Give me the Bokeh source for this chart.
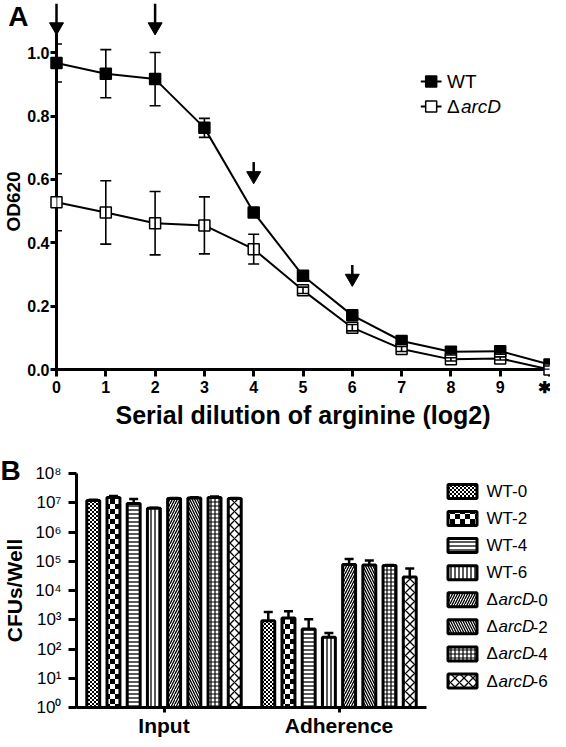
from bokeh.plotting import figure
from bokeh.models import (ColumnDataSource, Range1d, FactorRange, FixedTicker, Whisker,
                          TeeHead, CanvasTexture, NumeralTickFormatter)
from bokeh.transform import dodge
from bokeh.layouts import column, row
from bokeh.embed import file_html
from bokeh.resources import INLINE
from bokeh.core.properties import value

FONT = "Liberation Sans"

# ---------------- Panel A data ----------------
dilution = [0, 1, 2, 3, 4, 5, 6, 7, 8, 9, 10]
x_tick_labels = ["0", "1", "2", "3", "4", "5", "6", "7", "8", "9", "\u2731"]
y_ticks_a = [0.0, 0.2, 0.4, 0.6, 0.8, 1.0]
wt_od = [0.968, 0.934, 0.917, 0.763, 0.496, 0.296, 0.171, 0.090, 0.056, 0.058, 0.016]
wt_err = [0.060, 0.076, 0.084, 0.030, 0.012, 0.012, 0.012, 0.010, 0.010, 0.010, 0.005]
arcd_od = [0.528, 0.496, 0.462, 0.455, 0.380, 0.250, 0.132, 0.065, 0.032, 0.035, 0.0]
arcd_err = [0.090, 0.100, 0.100, 0.090, 0.047, 0.010, 0.010, 0.008, 0.005, 0.005, 0.0]
arrow_x = [0, 2, 4, 6]
arrow_tip = [1.06, 1.06, 0.59, 0.266]
arrow_tail = [1.155, 1.155, 0.655, 0.33]

# ---------------- Panel B data ----------------
groups = ["Input", "Adherence"]
series = ["WT-0", "WT-2", "WT-4", "WT-6", "\u0394arcD-0", "\u0394arcD-2", "\u0394arcD-4", "\u0394arcD-6"]
input_cfu = [1.2e7, 1.5e7, 9.5e6, 6.5e6, 1.4e7, 1.45e7, 1.5e7, 1.4e7]
input_err = [0.6e6, 2.0e6, 4.0e6, 0.3e6, 0.6e6, 0.8e6, 1.5e6, 0.6e6]
adh_cfu = [930, 1140, 480, 250, 7.8e4, 7.5e4, 7.1e4, 2.9e4]
adh_err = [920, 800, 570, 100, 4.2e4, 3.2e4, 4.0e3, 2.8e4]
y_ticks_b = [1e0, 1e1, 1e2, 1e3, 1e4, 1e5, 1e6, 1e7, 1e8]
y_tick_labels_b = ["10\u2070", "10\u00b9", "10\u00b2", "10\u00b3", "10\u2074",
                   "10\u2075", "10\u2076", "10\u2077", "10\u2078"]

# ---------------- styles ----------------
def checker_texture(n):
    return CanvasTexture(code=f"""
const N = {n};
const c = ctx.canvas;
c.width = N; c.height = N;
const g = c.getContext('2d');
g.clearRect(0, 0, N, N);
g.fillStyle = 'black';
g.fillRect(0, 0, N / 2, N / 2);
g.fillRect(N / 2, N / 2, N / 2, N / 2);
""")


HATCH = [
    dict(hatch_pattern=value("fine"), hatch_extra={"fine": checker_texture(4)}, hatch_scale=4),
    dict(hatch_pattern=value("coarse"), hatch_extra={"coarse": checker_texture(10)}, hatch_scale=10),
    dict(hatch_pattern="horizontal_line", hatch_scale=4, hatch_weight=1.3),
    dict(hatch_pattern="vertical_line", hatch_scale=4, hatch_weight=1.3),
    dict(hatch_pattern="right_diagonal_line", hatch_scale=5, hatch_weight=1.3),
    dict(hatch_pattern="left_diagonal_line", hatch_scale=5, hatch_weight=1.3),
    dict(hatch_pattern="cross", hatch_scale=4, hatch_weight=1.2),
    dict(hatch_pattern="diagonal_cross", hatch_scale=9, hatch_weight=1.3),
]


def style_axes(p):
    for ax in list(p.xaxis) + list(p.yaxis):
        ax.axis_line_width = 3
        ax.axis_line_color = "black"
        ax.major_tick_line_width = 3
        ax.major_tick_line_color = "black"
        ax.major_tick_in = 0
        ax.minor_tick_line_color = None
        ax.major_label_text_font = FONT
        ax.major_label_text_color = "black"
        ax.axis_label_text_font = FONT
        ax.axis_label_text_font_style = "bold"
        ax.axis_label_text_color = "black"
    p.xgrid.visible = False
    p.ygrid.visible = False
    p.outline_line_color = None


# ================= Panel A =================
A_W, A_H = 550, 439
A_L, A_R, A_T, A_B = 49, 1, 33, 70
FA_W, FA_H = A_W - A_L - A_R, A_H - A_T - A_B
pA = figure(width=A_W, height=A_H, output_backend="svg", toolbar_location=None,
            x_range=Range1d(0, 10), y_range=Range1d(0, 1.061),
            min_border_left=A_L, min_border_right=A_R, min_border_top=A_T, min_border_bottom=A_B)
# pixel-like helper ranges (origin at the frame's top-left) for legend / panel letter
pA.extra_x_ranges = {"px": Range1d(0, FA_W)}
pA.extra_y_ranges = {"py": Range1d(FA_H, 0)}
style_axes(pA)
pA.xaxis.ticker = FixedTicker(ticks=dilution, minor_ticks=[])
pA.xaxis.major_label_overrides = {d: t for d, t in zip(dilution, x_tick_labels)}
pA.yaxis.ticker = FixedTicker(ticks=y_ticks_a, minor_ticks=[])
pA.yaxis.formatter = NumeralTickFormatter(format="0.0")
for ax in [pA.xaxis[0], pA.yaxis[0]]:
    ax.major_tick_out = 7
    ax.major_label_text_font_style = "bold"
    ax.major_label_text_font_size = "16px"
    ax.major_label_standoff = 2
pA.yaxis.major_label_standoff = 1
pA.yaxis.major_tick_out = 6
pA.xaxis.axis_label = "Serial dilution of arginine (log2)"
pA.xaxis.axis_label_text_font_size = "25px"
pA.xaxis.axis_label_standoff = 2
pA.yaxis.axis_label = "OD620"
pA.yaxis.axis_label_text_font_size = "19px"
pA.yaxis.axis_label_standoff = 0

src_wt = ColumnDataSource(dict(x=dilution, y=wt_od,
                               lo=[v - e for v, e in zip(wt_od, wt_err)],
                               hi=[v + e for v, e in zip(wt_od, wt_err)]))
src_ad = ColumnDataSource(dict(x=dilution, y=arcd_od,
                               lo=[v - e for v, e in zip(arcd_od, arcd_err)],
                               hi=[v + e for v, e in zip(arcd_od, arcd_err)]))
for src in (src_wt, src_ad):
    pA.add_layout(Whisker(source=src, base="x", upper="hi", lower="lo", dimension="height",
                          line_width=1.6, line_color="black", level="overlay",
                          upper_head=TeeHead(size=11, line_width=1.6, line_color="black"),
                          lower_head=TeeHead(size=11, line_width=1.6, line_color="black")))
pA.line("x", "y", source=src_wt, line_width=2, line_color="black", level="overlay")
pA.line("x", "y", source=src_ad, line_width=2, line_color="black", level="overlay")
pA.scatter("x", "y", source=src_wt, marker="square", size=11, fill_color="black",
           line_color="black", line_width=1.5, level="overlay")
pA.scatter("x", "y", source=src_ad, marker="square", size=11, fill_color="white",
           line_color="black", line_width=1.5, level="overlay")

# arrows: shaft + triangular head
HEAD_OFF = 0.022
arrow_src = ColumnDataSource(dict(x=arrow_x, tail=arrow_tail,
                                  head=[t + HEAD_OFF for t in arrow_tip]))
pA.segment(x0="x", y0="tail", x1="x", y1="head", source=arrow_src, line_width=2.5,
           line_color="black", level="overlay")
pA.scatter("x", "head", source=arrow_src, marker="inverted_triangle", size=14,
           fill_color="black", line_color="black", line_width=1, level="overlay")

# legend A (frame-pixel helper ranges)
LEG_A_X, LEG_A_HALF = 380, 10.5
LEG_A_Y = [48, 73]
LEG_A_TX = 396
for yy, fill in zip(LEG_A_Y, ["black", "white"]):
    pA.line([LEG_A_X - LEG_A_HALF, LEG_A_X + LEG_A_HALF], [yy, yy], line_width=2,
            line_color="black", level="overlay", x_range_name="px", y_range_name="py")
    pA.scatter([LEG_A_X], [yy], marker="square", size=11, fill_color=fill,
               line_color="black", line_width=1.5, level="overlay",
               x_range_name="px", y_range_name="py")
TXT = dict(text_font=value(FONT), text_font_size="19px", text_baseline="middle",
           text_color="black", level="overlay", x_range_name="px", y_range_name="py")
pA.text([LEG_A_TX], [LEG_A_Y[0]], text=["WT"], **TXT)
pA.text([LEG_A_TX], [LEG_A_Y[1]], text=["\u0394"], **TXT)
pA.text([LEG_A_TX], [LEG_A_Y[1]], text=["arcD"], text_font_style="italic", x_offset=14, **TXT)

# panel letter A
pA.text([-A_L], [-A_T], text=["A"], text_font=value(FONT), text_font_size="28px",
        text_font_style="bold", text_baseline="top", text_color="black", level="overlay",
        x_range_name="px", y_range_name="py")

# ================= Panel B =================
B_W, B_H = 550, 300
B_L, B_R, B_T, B_B = 76, 124, 34, 31
FB_W, FB_H = B_W - B_L - B_R, B_H - B_T - B_B
pB = figure(width=B_W, height=B_H, output_backend="svg", toolbar_location=None,
            x_range=FactorRange(factors=groups, range_padding=0),
            y_range=Range1d(1, 1e8), y_axis_type="log",
            min_border_left=B_L, min_border_right=B_R, min_border_top=B_T, min_border_bottom=B_B)
style_axes(pB)
pB.yaxis.ticker = FixedTicker(ticks=y_ticks_b, minor_ticks=[])
pB.yaxis.major_label_overrides = {t: s for t, s in zip(y_ticks_b, y_tick_labels_b)}
pB.yaxis.major_label_text_font_size = "17px"
pB.yaxis.major_tick_out = 8
pB.yaxis.major_label_standoff = 7
pB.yaxis.axis_label = "CFUs/Well"
pB.yaxis.axis_label_text_font_size = "21px"
pB.yaxis.axis_label_standoff = 6
pB.xaxis.axis_label = None
pB.xaxis.major_tick_out = 5
pB.xaxis.major_label_standoff = 1
pB.xaxis.major_label_text_font_size = "21px"
pB.xaxis.major_label_text_font_style = "bold"


# frame-pixel -> synthetic data coordinates of panel B (for legend and panel letter)
def bx(px):
    return px * len(groups) / FB_W


def by(py):
    return 10 ** (8.0 * (1.0 - py / FB_H))


PITCH = 0.1155
BAR_W = 0.074
for i, name in enumerate(series):
    off = (i - 3.5) * PITCH
    cfu = [input_cfu[i], adh_cfu[i]]
    up = [input_cfu[i] + input_err[i], adh_cfu[i] + adh_err[i]]
    src = ColumnDataSource(dict(group=groups, cfu=cfu, up=up))
    pB.add_layout(Whisker(source=src, base=dodge("group", off, range=pB.x_range),
                          upper="up", lower="cfu", dimension="height",
                          line_width=2.5, line_color="black", lower_head=None,
                          upper_head=TeeHead(size=9, line_width=2.5, line_color="black")))
    pB.vbar(x=dodge("group", off, range=pB.x_range), top="cfu", bottom=1, width=BAR_W,
            source=src, fill_color="white", line_color="black", line_width=3,
            hatch_color="black", **HATCH[i])

# panel letter B
pB.text([bx(-B_L)], [by(-19)], text=["B"], text_font=value(FONT), text_font_size="28px",
        text_font_style="bold", text_baseline="top", text_color="black", level="overlay")

# legend B (right of the frame)
ROW0, ROW_STEP = 18, 27.2
BOX_X, BOX_W, BOX_H = 386, 29, 14
TXT_X = 410
LT = dict(text_font=value(FONT), text_font_size="17px", text_baseline="middle",
          text_color="black", level="overlay")
for i, name in enumerate(series):
    yy = by(ROW0 + ROW_STEP * i)
    pB.rect([bx(BOX_X)], [yy], width=BOX_W, height=BOX_H, width_units="screen",
            height_units="screen", fill_color="white", line_color="black",
            line_width=3, hatch_color="black", level="overlay", **HATCH[i])
    tx = bx(TXT_X)
    if name.startswith("\u0394"):
        base, suffix = name[1:].split("-")
        pB.text([tx], [yy], text=["\u0394"], **LT)
        pB.text([tx], [yy], text=[base], text_font_style="italic", x_offset=12, **LT)
        pB.text([tx], [yy], text=["-" + suffix], x_offset=46, **LT)
    else:
        pB.text([tx], [yy], text=[name], **LT)

layout = column(pA, row(pB), spacing=0)
open("out.html", "w").write(file_html(layout, INLINE))
